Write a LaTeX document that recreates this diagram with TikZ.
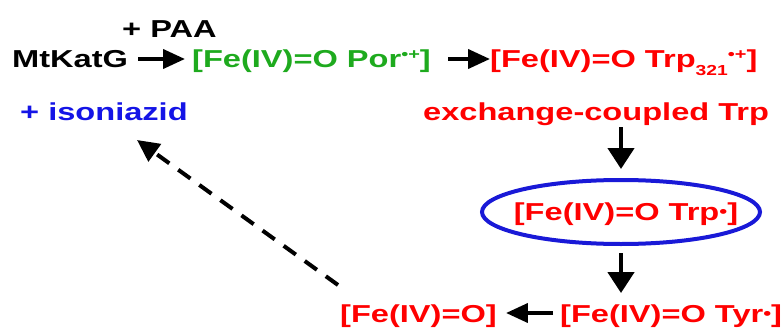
\documentclass[tikz,border=0pt]{standalone}
\usepackage{fontspec}
\setmainfont{Liberation Sans}[FakeStretch=1.33]
\usetikzlibrary{arrows.meta,shapes.geometric,calc}
\definecolor{kred}{RGB}{255,0,0}
\definecolor{kgreen}{RGB}{30,170,30}
\definecolor{kblue}{RGB}{20,20,230}
\definecolor{eblue}{RGB}{25,25,215}
\newcommand\lowtxt[1]{\raisebox{-8pt}{\fontsize{14.5}{14}\selectfont #1}}
\newcommand\hightxt[1]{\raisebox{8.5pt}{\fontsize{15}{14}\selectfont #1}}
\newcommand\dotrad{\raisebox{3pt}{\fontsize{17}{14}\selectfont •}}
\begin{document}
\begin{tikzpicture}[x=1pt,y=-1pt,
  lbl/.style={inner sep=0pt, anchor=base west, font=\fontsize{24.5}{28}\selectfont\bfseries},
  harr/.style={line width=4pt, -{Triangle[length=22pt,width=19pt]}},
  varr/.style={line width=4.5pt, -{Triangle[length=21pt,width=26pt]}},
  darr/.style={line width=4pt, dash pattern=on 15pt off 11pt, -{Triangle[length=22pt,width=21pt]}}]
\useasboundingbox (0,0) rectangle (782,329);
\node[lbl] (mtk) at (12,68) {MtKatG};
\node[lbl] (paa) at (122,38) {+ PAA};
\node[lbl, text=kgreen] (por) at (192,68) {[Fe(IV)=O Por\hightxt{•+}]};
\node[lbl, text=kred] (trpa) at (490,68) {[Fe(IV)=O Trp\lowtxt{321}\hightxt{•+}]};
\node[lbl, text=kred] (exch) at (423,120) {exchange-coupled Trp};
\node[lbl, text=kblue] (iso) at (20,120) {+ isoniazid};
\node[ellipse, draw=eblue, line width=4pt, minimum width=278pt, minimum height=64pt, inner sep=0pt] (ring) at (621,212) {};
\node[lbl, anchor=base, text=kred] (trpb) at (626,220) {[Fe(IV)=O Trp\dotrad]};
\node[lbl, text=kred] (tyr) at (560,322) {[Fe(IV)=O Tyr\dotrad]};
\node[lbl, text=kred] (fe) at (340,322) {[Fe(IV)=O]};
\draw[harr] ([xshift=10pt,yshift=9pt]mtk.base east) -- ([xshift=-7pt,yshift=9pt]por.base west);
\draw[harr] ([xshift=17pt,yshift=9pt]por.base east) -- ([xshift=0pt,yshift=9pt]trpa.base west);
\draw[varr] (exch.south -| ring.north) ++(0,2) -- ([yshift=9pt]ring.north);
\draw[varr] ([yshift=-7pt]ring.south) -- ([yshift=11pt]tyr.north -| ring.south);
\draw[harr] ([xshift=-7pt,yshift=9pt]tyr.base west) -- ([xshift=9pt,yshift=9pt]fe.base east);
\draw[darr] ($(fe.base west)+(-2,-37)$) -- ($(iso.base west)+(117,20)$);
\end{tikzpicture}
\end{document}
